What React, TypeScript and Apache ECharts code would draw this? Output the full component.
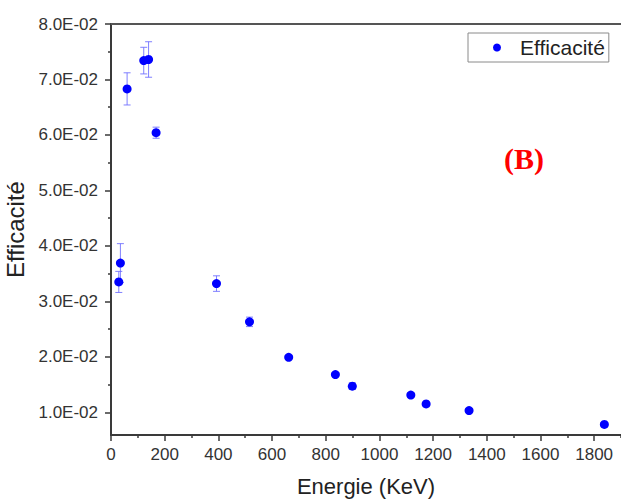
import React, { useEffect, useRef } from "react";
import * as echarts from "echarts";

const energies = [29, 35, 60, 122, 140, 168, 393, 516, 662, 836, 899, 1117, 1174, 1334, 1838];
const efficiencies = [0.0335, 0.0369, 0.0683, 0.0734, 0.0736, 0.0604, 0.0332, 0.0263, 0.0199, 0.0168, 0.0147, 0.0131, 0.0115, 0.0103, 0.0078];
const errors = [0.0019, 0.0035, 0.0029, 0.0024, 0.0032, 0.001, 0.0014, 0.00085, 0.0003, 0.0003, 0.0006, 0.0004, 0.0003, 0.0003, 0.0003];

const yMajorTicks = [0.01, 0.02, 0.03, 0.04, 0.05, 0.06, 0.07, 0.08];
const yMinorTicks = [0.015, 0.025, 0.035, 0.045, 0.055, 0.065, 0.075];
const xMajorTicks = [0, 200, 400, 600, 800, 1000, 1200, 1400, 1600, 1800];
const xMinorTicks = [100, 300, 500, 700, 900, 1100, 1300, 1500, 1700, 1900];

const seriesName = "Efficacité";
const yAxisName = "Efficacité";
const xAxisName = "Energie (KeV)";
const panelLabel = "(B)";

function fmtSci(v: number): string {
  const exp = Math.floor(Math.log10(v) + 1e-9);
  const mant = v / Math.pow(10, exp);
  const sign = exp < 0 ? "-" : "+";
  const e = Math.abs(exp).toString().padStart(2, "0");
  return mant.toFixed(1) + "E" + sign + e;
}

const FONT = "Liberation Sans";
const AX = "#3a3a3a";

export default function App() {
  const ref = useRef<HTMLDivElement>(null);
  useEffect(() => {
    if (!ref.current) return;
    const chart = echarts.init(ref.current, null, { renderer: "svg" });
    const pts = energies.map((e, i) => [e, efficiencies[i], errors[i]]);
    const Y_MIN = 0.0059;
    const Y_MAX = 0.08;
    const X_MIN = 0;
    const X_MAX = 1900;
    chart.setOption({
      animation: false,
      backgroundColor: "#ffffff",
      grid: { left: 111, right: 0, top: 24, bottom: 65, containLabel: false, outerBoundsMode: "none" },
      legend: {
        data: [seriesName],
        left: 468,
        top: 33,
        icon: "circle",
        itemWidth: 8,
        itemHeight: 8,
        itemGap: 0,
        padding: [4, 4, 4, 25],
        borderColor: "#8a8a8a",
        borderWidth: 1,
        backgroundColor: "#ffffff",
        textStyle: { fontFamily: FONT, fontSize: 21, color: "#222", padding: [0, 0, 0, 14] },
      },
      xAxis: [
        {
          type: "value",
          min: X_MIN,
          max: X_MAX,
          position: "bottom",
          name: xAxisName,
          nameLocation: "middle",
          nameGap: 40,
          nameTextStyle: { fontFamily: FONT, fontSize: 22, color: "#222" },
          axisLine: { show: true, onZero: false, lineStyle: { color: AX, width: 2 } },
          axisTick: { show: true, length: 6, customValues: xMajorTicks, lineStyle: { color: AX, width: 1.5 } },
          axisLabel: {
            customValues: xMajorTicks,
            formatter: (v: number) => String(v),
            fontFamily: FONT,
            fontSize: 17,
            color: "#333",
            margin: 11,
          },
          splitLine: { show: false },
        },
        {
          type: "value",
          min: X_MIN,
          max: X_MAX,
          position: "bottom",
          axisLine: { show: false, onZero: false },
          axisTick: { show: true, length: 3, customValues: xMinorTicks, lineStyle: { color: AX, width: 1.5 } },
          axisLabel: { show: false },
          splitLine: { show: false },
        },
        {
          type: "value",
          min: X_MIN,
          max: X_MAX,
          position: "top",
          axisLine: { show: true, onZero: false, lineStyle: { color: "#555", width: 2 } },
          axisTick: { show: false },
          axisLabel: { show: false },
          splitLine: { show: false },
        },
      ],
      yAxis: [
        {
          type: "value",
          min: Y_MIN,
          max: Y_MAX,
          position: "left",
          name: yAxisName,
          nameLocation: "middle",
          nameGap: 75,
          nameTextStyle: { fontFamily: FONT, fontSize: 24, color: "#222" },
          axisLine: { show: true, onZero: false, lineStyle: { color: AX, width: 2 } },
          axisTick: { show: true, length: 6, customValues: yMajorTicks, lineStyle: { color: AX, width: 1.5 } },
          axisLabel: {
            customValues: yMajorTicks,
            formatter: (v: number) => fmtSci(v),
            fontFamily: FONT,
            fontSize: 17,
            color: "#333",
            margin: 13,
          },
          splitLine: { show: false },
        },
        {
          type: "value",
          min: Y_MIN,
          max: Y_MAX,
          position: "left",
          axisLine: { show: false, onZero: false },
          axisTick: { show: true, length: 3, customValues: yMinorTicks, lineStyle: { color: AX, width: 1.5 } },
          axisLabel: { show: false },
          splitLine: { show: false },
        },
      ],
      series: [
        {
          type: "custom",
          name: "err",
          xAxisIndex: 0,
          yAxisIndex: 0,
          data: pts,
          z: 1,
          renderItem: (params: any, api: any) => {
            const x = api.value(0);
            const y = api.value(1);
            const e = api.value(2);
            const top = api.coord([x, y + e]);
            const bot = api.coord([x, y - e]);
            const hw = 3.5;
            const st = { stroke: "#6a6aff", lineWidth: 1, opacity: 0.85 };
            return {
              type: "group",
              children: [
                { type: "line", shape: { x1: top[0], y1: top[1], x2: bot[0], y2: bot[1] }, style: st },
                { type: "line", shape: { x1: top[0] - hw, y1: top[1], x2: top[0] + hw, y2: top[1] }, style: st },
                { type: "line", shape: { x1: bot[0] - hw, y1: bot[1], x2: bot[0] + hw, y2: bot[1] }, style: st },
              ],
            };
          },
        },
        {
          type: "scatter",
          name: seriesName,
          xAxisIndex: 0,
          yAxisIndex: 0,
          data: pts.map((p) => [p[0], p[1]]),
          symbol: "circle",
          symbolSize: 9,
          itemStyle: { color: "#0000ff", opacity: 1 },
          z: 2,
        },
      ],
      graphic: [
        {
          type: "text",
          x: 524,
          y: 158,
          style: {
            text: panelLabel,
            fill: "#ff0000",
            font: 'bold 30px "Liberation Serif"',
            textAlign: "center",
            textVerticalAlign: "middle",
          },
        },
      ],
    });
    return () => chart.dispose();
  }, []);
  return (
    <div
      ref={ref}
      style={{ position: "fixed", left: 0, top: 0, width: 621, height: 500, background: "#fff" }}
    />
  );
}
